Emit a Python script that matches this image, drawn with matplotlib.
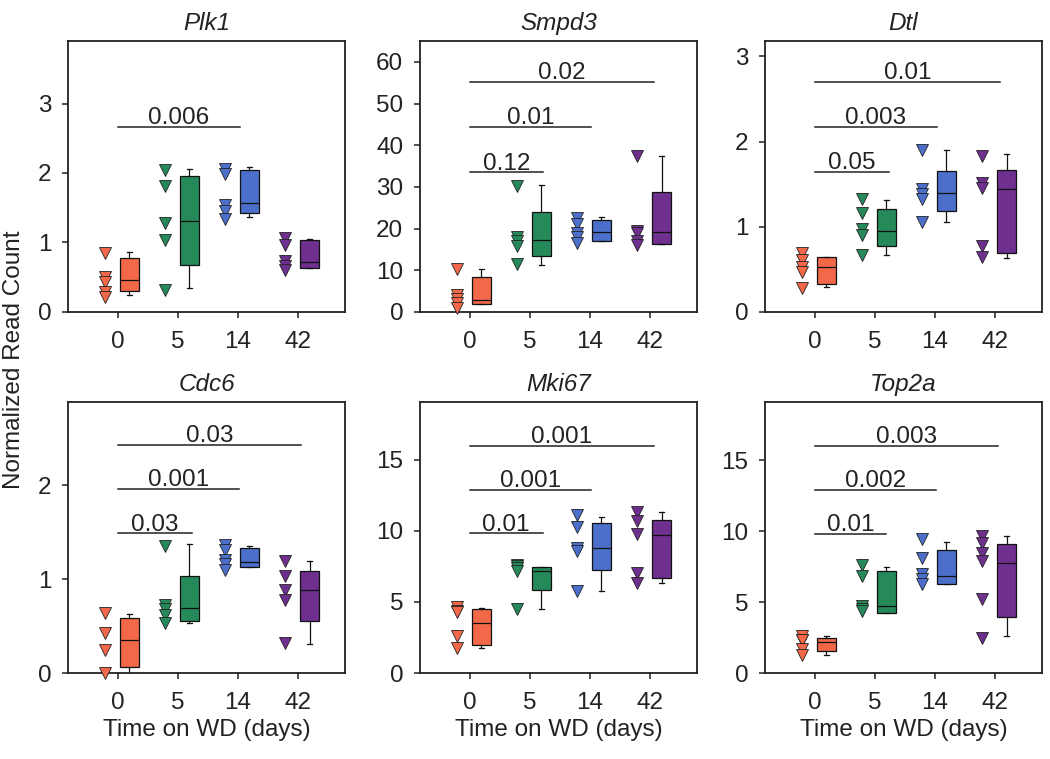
import matplotlib
matplotlib.use("Agg")
import matplotlib.pyplot as plt

plt.rcParams['font.family'] = ['Liberation Sans', 'DejaVu Sans']

days = ['0', '5', '14', '42']
colors = ['#F26849', '#26895A', '#4B6FCB', '#6F2F8F']
genes = ['Plk1', 'Smpd3', 'Dtl', 'Cdc6', 'Mki67', 'Top2a']

# individual samples (triangles), one list per time point
plk1_pts = [[0.85, 0.50, 0.43, 0.28, 0.22], [2.04, 1.81, 1.28, 1.04, 0.31],
            [2.06, 1.99, 1.54, 1.46, 1.34], [1.06, 0.96, 0.73, 0.66, 0.60]]
smpd3_pts = [[10.4, 4.0, 3.0, 2.2, 1.0], [30.1, 17.9, 16.9, 15.8, 11.6],
             [22.5, 21.0, 19.0, 18.0, 16.5], [37.3, 19.5, 19.0, 17.1, 16.1]]
dtl_pts = [[0.69, 0.61, 0.53, 0.47, 0.28], [1.33, 1.16, 0.97, 0.90, 0.67],
           [1.90, 1.44, 1.38, 1.32, 1.05], [1.83, 1.51, 1.45, 0.77, 0.65]]
cdc6_pts = [[0.64, 0.43, 0.25, 0.0], [1.35, 0.72, 0.68, 0.62, 0.53],
            [1.36, 1.31, 1.21, 1.16, 1.10], [1.19, 1.03, 0.89, 0.78, 0.32]]
mki67_pts = [[4.66, 4.36, 4.30, 2.59, 1.77], [7.6, 7.5, 7.4, 7.2, 4.47],
             [11.14, 10.31, 8.83, 8.59, 5.77], [11.3, 10.7, 9.77, 7.06, 6.36]]
top2a_pts = [[2.59, 2.36, 2.30, 1.72, 1.30], [7.62, 6.84, 4.72, 4.48, 4.36],
             [9.43, 8.14, 6.96, 6.60, 6.25], [9.67, 9.13, 8.49, 7.90, 5.19, 2.48]]

# box stats: whisker low, q1, median, q3, whisker high
plk1_box = [[0.25, 0.30, 0.46, 0.78, 0.87], [0.35, 0.68, 1.31, 1.95, 2.06],
            [1.37, 1.43, 1.57, 2.04, 2.09], [0.63, 0.63, 0.72, 1.03, 1.05]]
smpd3_box = [[1.8, 1.9, 2.8, 8.4, 10.3], [11.2, 13.5, 17.3, 23.9, 30.4],
             [16.9, 16.9, 19.1, 22.1, 22.7], [16.3, 16.3, 19.1, 28.7, 37.3]]
dtl_box = [[0.29, 0.33, 0.53, 0.64, 0.65], [0.67, 0.77, 0.95, 1.21, 1.31],
           [1.05, 1.19, 1.40, 1.65, 1.90], [0.63, 0.69, 1.44, 1.67, 1.85]]
cdc6_box = [[0.0, 0.06, 0.35, 0.59, 0.63], [0.53, 0.56, 0.69, 1.03, 1.38],
            [1.13, 1.13, 1.18, 1.33, 1.35], [0.31, 0.55, 0.89, 1.09, 1.19]]
mki67_box = [[1.77, 1.95, 3.53, 4.47, 4.59], [4.47, 5.84, 7.18, 7.49, 7.49],
             [5.77, 7.25, 8.83, 10.55, 11.0], [6.36, 6.71, 9.72, 10.78, 11.3]]
top2a_box = [[1.30, 1.53, 2.20, 2.48, 2.60], [4.2, 4.2, 4.72, 7.19, 7.5],
             [6.3, 6.3, 6.84, 8.66, 9.2], [2.59, 3.96, 7.78, 9.08, 9.67]]

# p-values: (label, bar height, bar end in group units)
plk1_sig = [('0.006', 2.66, 2.03)]
smpd3_sig = [('0.12', 33.5, 1.22), ('0.01', 44.4, 2.02), ('0.02', 55.2, 3.07)]
dtl_sig = [('0.05', 1.64, 1.23), ('0.003', 2.17, 2.03), ('0.01', 2.70, 3.08)]
cdc6_sig = [('0.03', 1.49, 1.23), ('0.001', 1.96, 2.01), ('0.03', 2.43, 3.05)]
mki67_sig = [('0.01', 9.82, 1.21), ('0.001', 12.88, 2.02), ('0.001', 15.96, 3.06)]
top2a_sig = [('0.01', 9.79, 1.19), ('0.002', 12.9, 2.01), ('0.003', 15.99, 3.04)]

ylims = [3.9, 65, 3.18, 2.89, 19.07, 19.1]
yticks = [[0, 1, 2, 3], [0, 10, 20, 30, 40, 50, 60], [0, 1, 2, 3],
          [0, 1, 2], [0, 5, 10, 15], [0, 5, 10, 15]]

all_pts = [plk1_pts, smpd3_pts, dtl_pts, cdc6_pts, mki67_pts, top2a_pts]
all_box = [plk1_box, smpd3_box, dtl_box, cdc6_box, mki67_box, top2a_box]
all_sig = [plk1_sig, smpd3_sig, dtl_sig, cdc6_sig, mki67_sig, top2a_sig]

fig = plt.figure(figsize=(10.5, 7.59), dpi=100)
lefts = [0.0648, 0.400, 0.7286]
bottoms = [0.589, 0.1133]
w, h = 0.2638, 0.357
fs = 17.5

for k in range(6):
    ax = fig.add_axes([lefts[k % 3], bottoms[k // 3], w, h])
    pts = all_pts[k]
    stats = []
    for i in range(4):
        b = all_box[k][i]
        stats.append({'whislo': b[0], 'q1': b[1], 'med': b[2], 'q3': b[3], 'whishi': b[4]})
        ax.plot([i - 0.22] * len(pts[i]), pts[i], linestyle='none', marker='v', ms=8.5,
                mfc=colors[i], mec='#222222', mew=0.6, clip_on=False, zorder=3)
    res = ax.bxp(stats, positions=[i + 0.19 for i in range(4)], widths=0.32,
                 showfliers=False, patch_artist=True, capwidths=0.08,
                 medianprops={'color': '#111111', 'lw': 0.9},
                 whiskerprops={'color': '#111111', 'lw': 0.9},
                 capprops={'color': '#111111', 'lw': 0.9},
                 boxprops={'edgecolor': '#111111', 'lw': 0.9})
    for patch, c in zip(res['boxes'], colors):
        patch.set_facecolor(c)

    for label, yv, xe in all_sig[k]:
        ax.plot([0, xe], [yv, yv], color='#222222', lw=1.1)
        ax.annotate(label, (xe / 2, yv), xytext=(0, 2), textcoords='offset points',
                    ha='center', va='baseline', fontsize=fs, color='#222222')

    ax.set_xlim(-0.83, 3.78)
    ax.set_ylim(0, ylims[k])
    ax.set_xticks(range(4))
    ax.set_xticklabels(days)
    ax.set_yticks(yticks[k])
    ax.tick_params(direction='out', length=4, width=1.1, labelsize=fs, pad=8,
                   colors='#222222')
    ax.tick_params(axis='x', pad=10)
    for s in ax.spines.values():
        s.set_linewidth(1.3)
        s.set_color('#222222')
    ax.set_title(genes[k], fontsize=fs, style='italic', pad=8, color='#222222')
    if k >= 3:
        ax.set_xlabel('Time on WD (days)', fontsize=fs, labelpad=3, color='#222222')

fig.text(0.013, 1 - 360 / 759, 'Normalized Read Count', rotation=90, ha='center',
         va='center', fontsize=fs, color='#222222')

plt.savefig('out.png', dpi=100)
